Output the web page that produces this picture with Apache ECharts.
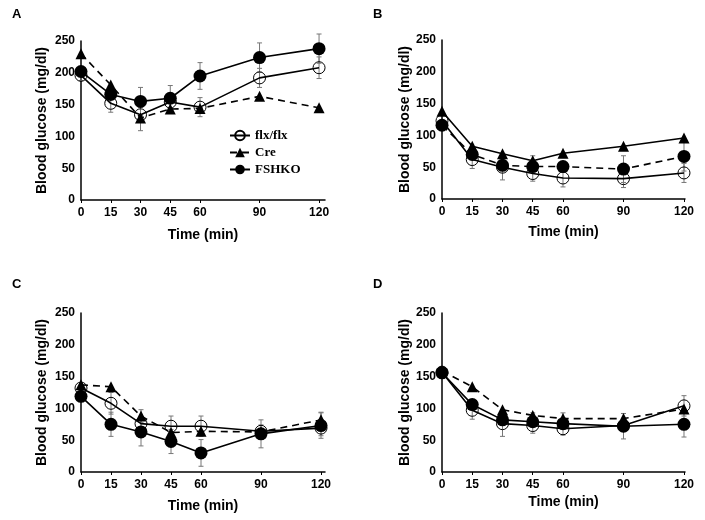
<!DOCTYPE html>
<html>
<head>
<meta charset="utf-8">
<script src="https://cdn.jsdelivr.net/npm/echarts@6/dist/echarts.min.js"></script>
<style>html,body{margin:0;padding:0;background:#fff}#c{width:705px;height:520px}</style>
</head>
<body>
<div id="c"></div>
<script>
// Time points (min)
const times = [0, 15, 30, 45, 60, 90, 120];
const xTickLabels = ['0', '15', '30', '45', '60', '90', '120'];
const seriesNames = ['flx/flx', 'Cre', 'FSHKO'];
const panelLetters = ['A', 'B', 'C', 'D'];

// Panel A
const A_flx = [196, 152, 134, 154, 146, 192, 208];
const A_flxErr = [8, 14, 12, 10, 15, 15, 17];
const A_cre = [230, 181, 129, 143, 144, 163, 145];
const A_creErr = [0, 0, 20, 0, 0, 0, 0];
const A_fshko = [202, 166, 155, 160, 195, 224, 238];
const A_fshkoErr = [0, 0, 22, 20, 21, 23, 23];

// Panel B
const B_flx = [123, 62, 50, 40, 33, 32, 41];
const B_flxErr = [0, 14, 20, 12, 14, 14, 15];
const B_cre = [138, 83, 71, 60, 72, 83, 96];
const B_creErr = [0, 0, 0, 8, 0, 0, 0];
const B_fshko = [116, 70, 53, 51, 51, 47, 67];
const B_fshkoErr = [0, 0, 0, 0, 0, 21, 23];

// Panel C
const C_flx = [132, 108, 76, 72, 72, 64, 69];
const C_flxErr = [0, 17, 10, 16, 16, 10, 12];
const C_cre = [137, 134, 88, 62, 64, 63, 82];
const C_creErr = [0, 0, 10, 0, 0, 0, 12];
const C_fshko = [119, 75, 63, 48, 30, 60, 73];
const C_fshkoErr = [0, 19, 22, 19, 21, 22, 20];

// Panel D
const D_flx = [157, 97, 76, 73, 68, 73, 104];
const D_flxErr = [0, 14, 20, 12, 10, 8, 16];
const D_cre = [159, 134, 98, 89, 84, 84, 99];
const D_creErr = [0, 0, 0, 4, 9, 8, 0];
const D_fshko = [156, 106, 82, 79, 76, 72, 75];
const D_fshkoErr = [0, 0, 0, 0, 0, 20, 20];

const panels = [
  {vals: [A_flx, A_cre, A_fshko], errs: [A_flxErr, A_creErr, A_fshkoErr], dash: [false, true, false]},
  {vals: [B_flx, B_cre, B_fshko], errs: [B_flxErr, B_creErr, B_fshkoErr], dash: [false, false, true]},
  {vals: [C_flx, C_cre, C_fshko], errs: [C_flxErr, C_creErr, C_fshkoErr], dash: [false, true, false]},
  {vals: [D_flx, D_cre, D_fshko], errs: [D_flxErr, D_creErr, D_fshkoErr], dash: [false, true, false]}
];

const layout = [
  {left: 81, top: 41, width: 244, height: 159, max: 123, xGap: 28, yGap: 32, lx: 17, ly: 15},
  {left: 442, top: 40, width: 243, height: 159, max: 120.5, xGap: 26, yGap: 30, lx: 378, ly: 15},
  {left: 81, top: 313, width: 244, height: 159, max: 122, xGap: 27, yGap: 32, lx: 17, ly: 285},
  {left: 442, top: 313, width: 243, height: 159, max: 120.5, xGap: 23, yGap: 30, lx: 378, ly: 285}
];

const font = 'Liberation Sans, Arial, sans-serif';
const grids = [], xAxes = [], yAxes = [], series = [], graphics = [];
const symbols = ['circle', 'triangle', 'circle'];
const symSizes = [12, 11, 13];

layout.forEach((L, i) => {
  grids.push({left: L.left, top: L.top, width: L.width, height: L.height});
  xAxes.push({
    type: 'value', gridIndex: i, min: 0, max: L.max, interval: 15,
    name: 'Time (min)', nameLocation: 'middle', nameGap: L.xGap,
    nameTextStyle: {fontFamily: font, fontWeight: 'bold', fontSize: 14, color: '#000'},
    axisLine: {show: true, lineStyle: {color: '#000', width: 1.5}},
    axisTick: {show: true, length: 3, lineStyle: {color: '#000'},
      customValues: times},
    axisLabel: {fontFamily: font, fontWeight: 'bold', fontSize: 12, color: '#000', margin: 7,
      customValues: times,
      formatter: v => { const k = times.indexOf(v); return k >= 0 ? xTickLabels[k] : ''; }},
    splitLine: {show: false}
  });
  yAxes.push({
    type: 'value', gridIndex: i, min: 0, max: 250, interval: 50,
    name: 'Blood glucose (mg/dl)', nameLocation: 'middle', nameGap: L.yGap, nameRotate: 90,
    nameTextStyle: {fontFamily: font, fontWeight: 'bold', fontSize: 14, color: '#000'},
    axisLine: {show: true, lineStyle: {color: '#000', width: 1.5}},
    axisTick: {show: false},
    axisLabel: {fontFamily: font, fontWeight: 'bold', fontSize: 12, color: '#000', margin: 6},
    splitLine: {show: false}
  });
  graphics.push({type: 'text', left: L.lx - 5, top: L.ly - 7,
    style: {text: panelLetters[i], font: 'bold 13px ' + font, fill: '#000'}});

  const P = panels[i];
  // error bars
  P.vals.forEach((vals, s) => {
    const errData = times.map((t, k) => [t, vals[k], P.errs[s][k]]).filter(d => d[2] > 0);
    series.push({
      type: 'custom', xAxisIndex: i, yAxisIndex: i, z: 1, silent: true,
      data: errData,
      renderItem: (params, api) => {
        const x = api.value(0), y = api.value(1), e = api.value(2);
        const hi = api.coord([x, y + e]), lo = api.coord([x, y - e]);
        const st = {stroke: '#777', lineWidth: 1};
        return {type: 'group', children: [
          {type: 'line', shape: {x1: hi[0], y1: hi[1], x2: lo[0], y2: lo[1]}, style: st},
          {type: 'line', shape: {x1: hi[0] - 2.5, y1: hi[1], x2: hi[0] + 2.5, y2: hi[1]}, style: st},
          {type: 'line', shape: {x1: lo[0] - 2.5, y1: lo[1], x2: lo[0] + 2.5, y2: lo[1]}, style: st}
        ]};
      }
    });
  });
  P.vals.forEach((vals, s) => {
    series.push({
      type: 'line', name: seriesNames[s], xAxisIndex: i, yAxisIndex: i, z: 3 + s,
      data: times.map((t, k) => [t, vals[k]]),
      symbol: symbols[s], symbolSize: symSizes[s], showAllSymbol: true,
      lineStyle: {color: '#000', width: 1.6, type: P.dash[s] ? [7, 5] : 'solid'},
      itemStyle: s === 0 ? {color: 'rgba(255,255,255,0)', borderColor: '#000', borderWidth: 1}
                          : {color: '#000', borderColor: '#000', borderWidth: 0},
      animation: false
    });
  });
});

const chart = echarts.init(document.getElementById('c'), null, {renderer: 'canvas'});
chart.setOption({
  animation: false,
  backgroundColor: '#fff',
  grid: grids, xAxis: xAxes, yAxis: yAxes, series: series,
  graphic: graphics,
  legend: {
    data: seriesNames, orient: 'vertical', left: 224, top: 124, itemGap: 4,
    itemWidth: 20, itemHeight: 12,
    textStyle: {fontFamily: 'Liberation Serif, Times New Roman, serif', fontWeight: 'bold', fontSize: 13, color: '#000'}
  }
});
</script>
</body>
</html>
